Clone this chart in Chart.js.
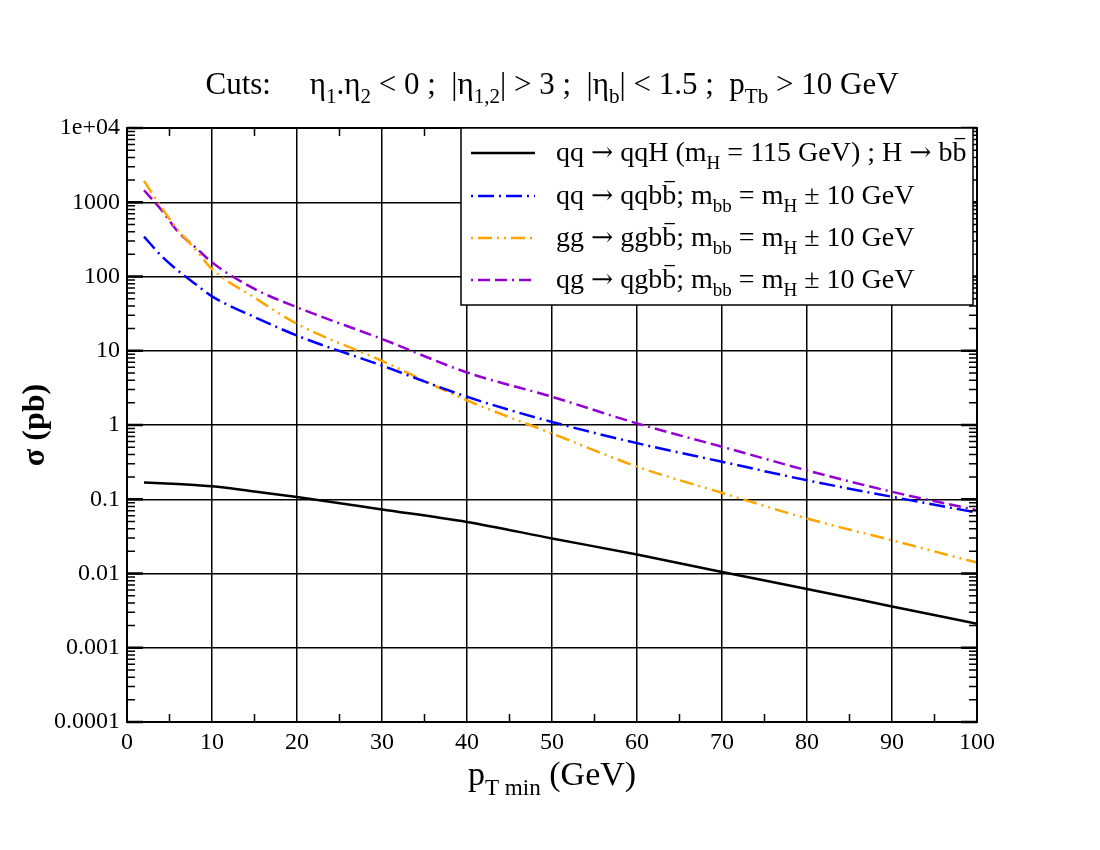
<!DOCTYPE html>
<html>
<head>
<meta charset="utf-8">
<script src="https://cdn.jsdelivr.net/npm/chart.js@4/dist/chart.umd.min.js"></script>
<style>
  html, body { margin: 0; padding: 0; background: #fff; }
  #wrap { width: 1100px; height: 850px; }
</style>
</head>
<body>
<div id="wrap"><canvas id="grafico" width="1100" height="850"></canvas></div>
<script>
    // valores
    const ptMin = [2, 4, 6, 8, 10, 15, 20, 30, 40, 50, 60, 70, 80, 90, 100];
    const sinalHbb = [0.168, 0.164, 0.160, 0.155, 0.150, 0.127, 0.107, 0.073, 0.0495, 0.0297, 0.018, 0.0105, 0.0062, 0.0036, 0.0021];
    const qqbb = [345, 192, 120, 80, 54, 28.5, 16, 6.3, 2.4, 1.1, 0.57, 0.32, 0.18, 0.108, 0.066];
    const ggbb = [1940, 870, 420, 235, 126, 52, 23, 7.3, 2.15, 0.77, 0.275, 0.122, 0.055, 0.028, 0.014];
    const qgbb = [1450, 800, 400, 250, 155, 68, 38.5, 14.4, 5.1, 2.4, 1.05, 0.51, 0.245, 0.126, 0.071];

    const yTickVals = [1e-4, 1e-3, 1e-2, 0.1, 1, 10, 100, 1000, 1e4];
    const yTickLabels = ["0.0001", "0.001", "0.01", "0.1", "1", "10", "100", "1000", "1e+04"];
    const xTickVals = [0, 10, 20, 30, 40, 50, 60, 70, 80, 90, 100];

    const SERIF = '"Liberation Serif", "DejaVu Serif", serif';
    const SIMBOLO = '"DejaVu Serif", serif';

    const series = [
      { dados: sinalHbb, cor: '#000000', dash: [],
        rotulo: [['qq '], ['→', 'sym'], [' qqH (m'], ['H', 'sub'], [' = 115 GeV) ; H '], ['→', 'sym'], [' b'], ['b', 'bar']] },
      { dados: qqbb, cor: '#0000ff', dash: [16, 5, 2, 5],
        rotulo: [['qq '], ['→', 'sym'], [' qqb'], ['b', 'bar'], ['; m'], ['bb', 'sub'], [' = m'], ['H', 'sub'], [' ± 10 GeV']] },
      { dados: ggbb, cor: '#ffa500', dash: [14, 5, 2, 5, 2, 5],
        rotulo: [['gg '], ['→', 'sym'], [' ggb'], ['b', 'bar'], ['; m'], ['bb', 'sub'], [' = m'], ['H', 'sub'], [' ± 10 GeV']] },
      { dados: qgbb, cor: '#9400d3', dash: [12, 5, 12, 5, 2, 5],
        rotulo: [['qg '], ['→', 'sym'], [' qgb'], ['b', 'bar'], ['; m'], ['bb', 'sub'], [' = m'], ['H', 'sub'], [' ± 10 GeV']] }
    ];

    function fonteSeg(s, size, peso) {
      if (s[1] === 'sub') return `${peso || ''} ${size * 0.68}px ${SERIF}`;
      if (s[1] === 'sym') return `${size * 0.95}px ${SIMBOLO}`;
      return `${peso || ''} ${size}px ${SERIF}`;
    }

    function desenharRico(ctx, segs, x, y, size, align, peso) {
      let total = 0;
      segs.forEach(s => { ctx.font = fonteSeg(s, size, peso); total += ctx.measureText(s[0]).width; });
      let cx = align === 'center' ? x - total / 2 : x;
      ctx.textAlign = 'left';
      ctx.textBaseline = 'alphabetic';
      ctx.fillStyle = '#000';
      segs.forEach(s => {
        const sub = s[1] === 'sub';
        ctx.font = fonteSeg(s, size, peso);
        const w = ctx.measureText(s[0]).width;
        ctx.fillText(s[0], cx, sub ? y + size * 0.3 : y);
        if (s[1] === 'bar') {
          ctx.strokeStyle = '#000';
          ctx.lineWidth = 1.3;
          ctx.beginPath();
          ctx.moveTo(cx + w * 0.15, y - size * 0.8);
          ctx.lineTo(cx + w * 0.9, y - size * 0.8);
          ctx.stroke();
        }
        cx += w;
      });
    }

    const extras = {
      id: 'extras',
      afterDatasetsDraw(chart) {
        const ctx = chart.ctx;
        const a = chart.chartArea;
        const xs = chart.scales.x, ys = chart.scales.y;
        ctx.save();

        // ticks menores (para dentro)
        ctx.strokeStyle = '#000';
        ctx.lineWidth = 1.5;
        for (let d = 1e-4; d < 1e4; d *= 10) {
          for (let k = 2; k <= 9; k++) {
            const py = ys.getPixelForValue(k * d);
            ctx.beginPath();
            ctx.moveTo(a.left, py); ctx.lineTo(a.left + 8, py);
            ctx.moveTo(a.right, py); ctx.lineTo(a.right - 8, py);
            ctx.stroke();
          }
        }
        for (let v = 5; v < 100; v += 10) {
          const px = xs.getPixelForValue(v);
          ctx.beginPath();
          ctx.moveTo(px, a.bottom); ctx.lineTo(px, a.bottom - 8);
          ctx.moveTo(px, a.top); ctx.lineTo(px, a.top + 8);
          ctx.stroke();
        }
        ctx.lineWidth = 2.5;
        yTickVals.forEach(v => {
          const py = ys.getPixelForValue(v);
          ctx.beginPath();
          ctx.moveTo(a.left, py); ctx.lineTo(a.left + 16, py);
          ctx.moveTo(a.right, py); ctx.lineTo(a.right - 16, py);
          ctx.stroke();
        });

        // moldura
        ctx.lineWidth = 2;
        ctx.strokeRect(a.left, a.top, a.right - a.left, a.bottom - a.top);

        // legenda
        const lx = 461, ly = a.top, lw = 512, lh = 177;
        ctx.fillStyle = '#fff';
        ctx.fillRect(lx, ly, lw, lh);
        ctx.lineWidth = 1.5;
        ctx.strokeRect(lx, ly, lw, lh);
        const linhas = [153, 196, 238, 280];
        series.forEach((s, i) => {
          const yy = linhas[i];
          ctx.strokeStyle = s.cor;
          ctx.lineWidth = 2.5;
          ctx.setLineDash(s.dash.length ? [2, 5].concat(s.dash.slice(0, -2)) : []);
          ctx.beginPath();
          ctx.moveTo(471, yy); ctx.lineTo(535, yy);
          ctx.stroke();
          ctx.setLineDash([]);
          desenharRico(ctx, s.rotulo, 556, yy + 8, 28);
        });

        // título
        desenharRico(ctx, [['Cuts:     η'], ['1', 'sub'], ['.η'], ['2', 'sub'], [' < 0 ;  |η'], ['1,2', 'sub'],
          ['| > 3 ;  |η'], ['b', 'sub'], ['| < 1.5 ;  p'], ['Tb', 'sub'], [' > 10 GeV']], 552, 94, 31, 'center');

        // títulos dos eixos
        desenharRico(ctx, [['p'], ['T min', 'sub'], [' (GeV)']], 552, 785, 34, 'center');
        ctx.translate(44, (a.top + a.bottom) / 2);
        ctx.rotate(-Math.PI / 2);
        desenharRico(ctx, [['σ (pb)']], 0, 0, 32, 'center', 'bold');
        ctx.restore();
      }
    };

    const ctx = document.getElementById('grafico').getContext('2d');
    const grafico = new Chart(ctx, {
      type: 'line',
      data: {
        datasets: series.map(s => ({
          data: ptMin.map((x, i) => ({ x: x, y: s.dados[i] })),
          borderColor: s.cor,
          borderWidth: 2.5,
          borderDash: s.dash,
          pointRadius: 0,
          cubicInterpolationMode: 'monotone',
          fill: false
        }))
      },
      options: {
        responsive: false,
        animation: false,
        layout: { padding: { left: 27, right: 123, top: 128, bottom: 68 } },
        plugins: { legend: { display: false }, tooltip: { enabled: false } },
        scales: {
          x: {
            type: 'linear', min: 0, max: 100,
            afterBuildTicks: s => { s.ticks = xTickVals.map(v => ({ value: v })); },
            afterFit: s => { s.height = 60; },
            grid: { color: '#000', lineWidth: 1.5, drawTicks: false },
            border: { color: '#000', width: 2 },
            ticks: { color: '#000', padding: 6, maxRotation: 0, font: { family: SERIF, size: 24 } }
          },
          y: {
            type: 'logarithmic', min: 1e-4, max: 1e4,
            afterBuildTicks: s => { s.ticks = yTickVals.map(v => ({ value: v })); },
            afterFit: s => { s.width = 100; },
            grid: { color: '#000', lineWidth: 1.5, drawTicks: false },
            border: { color: '#000', width: 2 },
            ticks: {
              color: '#000', padding: 7, font: { family: SERIF, size: 24 },
              callback: (v, i) => yTickLabels[i]
            }
          }
        }
      },
      plugins: [extras]
    });
</script>
</body>
</html>
